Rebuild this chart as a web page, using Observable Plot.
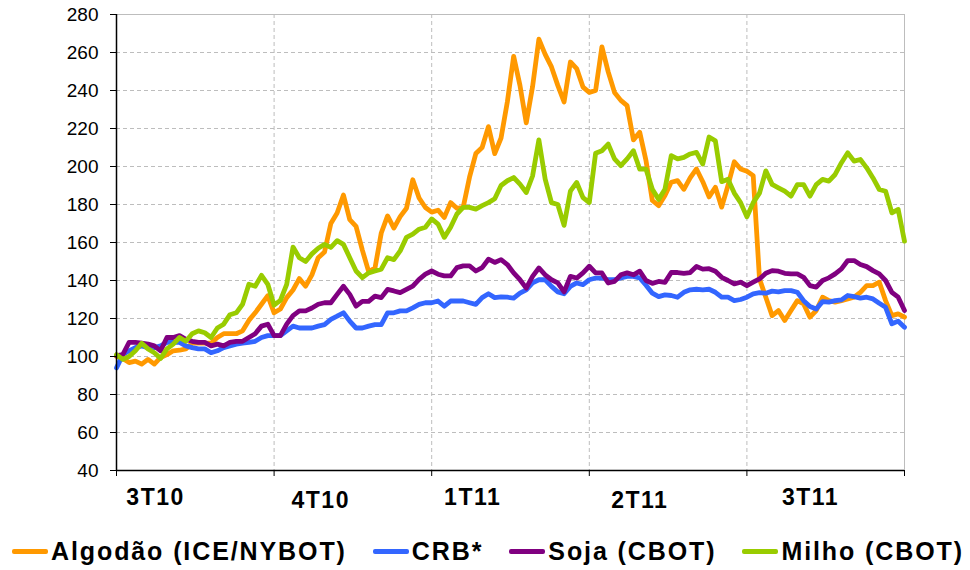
<!DOCTYPE html>
<html>
<head>
<meta charset="utf-8">
<script src="https://cdn.jsdelivr.net/npm/d3@7"></script>
<script src="https://cdn.jsdelivr.net/npm/@observablehq/plot@0.6"></script>
<style>
  html, body { margin: 0; padding: 0; background: #fff; }
  body { width: 970px; height: 570px; overflow: hidden; font-family: "Liberation Sans", Arial, sans-serif; }
  #legend { display: flex; align-items: center; padding-left: 12px; margin-top: 18px; height: 26px; gap: 26px;
    font-weight: bold; font-size: 25px; letter-spacing: 1.9px; color: #000; white-space: nowrap; }
  .item { display: flex; align-items: center; }
  .sw { width: 36px; height: 5px; border-radius: 2px; margin-right: 3px; }
</style>
</head>
<body>
<div id="chart"></div>
<div id="legend"></div>
<script>
// ---- data (index = sampling step, 25 steps per quarter) ----
const quarters = ["3T10", "4T10", "1T11", "2T11", "3T11"];
const seriesNames = ["Algodão (ICE/NYBOT)", "CRB*", "Soja (CBOT)", "Milho (CBOT)"];
const yTicks = [40, 60, 80, 100, 120, 140, 160, 180, 200, 220, 240, 260, 280];

const algodao = [100,99,96.8,97.6,96,98.5,96,99.5,101,103,103.3,104,107,107,107,107,110,112,112,112,
113.5,119,123,127.5,132,123,125,131,135,141,137,143,152,155,170,175.5,185,172,168.5,156,
144.7,146.5,165,174,167.6,173.6,178,193,183.4,178.4,176,177,173.2,181,178,178.5,194.4,206.8,210,221,
206.8,215,234,258,242.7,223,242,267,259,252.4,242.7,234,255,251.5,241.8,239,240,263,249.8,239,
234.8,232,214,218,203,182.1,179.4,184.7,191.7,192.6,188,194,198.7,192,184,189.1,178.6,190,202.5,198.7,
197.5,195.2,140.8,131.2,121.5,124.2,118.9,124.2,129.4,127.7,120.7,124.2,131.2,129.4,128.6,129.4,130.3,131.2,133.8,137.3,
137.3,139.1,129.4,121.5,122.4,120.7];

const crb = [94,101,103,104.7,105.6,104.7,104.7,105.6,107.4,107.4,107.4,105.6,104.7,104,104,102,103,104.7,105.6,106.5,
107,107.4,108,110,111,111,111,113.5,116,115,115,115,116,116.8,119.5,121.2,123,118.6,115,115,
116,116.8,116.8,123,123,124,124,125.6,127.4,128.3,128.3,129.2,126.5,129.2,129.2,129.2,128.3,127.4,131,133,
131,131.4,131.2,130.7,133.4,135.1,138.7,140.4,140.4,136.9,134,133,136.9,138.7,137.8,140.4,141.3,141.3,140.4,140.4,
141.3,142.2,142.2,141.3,137.5,133.3,131.5,132.4,132.1,131.2,133.8,135.1,135.4,135.1,135.4,133.8,131.2,131.2,129.4,130,
131.2,133,133.6,133.3,134.4,134,134.7,134.7,133.8,129.4,126.3,125,128.9,128.6,129.4,129.8,132.1,131.5,130.7,131.2,
130.3,128,125.9,117.2,118.6,115.4];

const soja = [100.5,101,107.4,107.4,107,106.5,105.6,103,110,110,111,109,108,107.4,107.4,105.6,106.5,105.6,107.4,108,
108,110,112,116,117,111,111,117,121.5,124,124,125.5,127.5,128.3,128.3,132.7,137,132.7,126.5,129,
129,131.8,131,135.3,134.5,133.6,135.3,137,140.6,143.3,145,143.3,142.4,142.4,146.8,147.7,147.7,145,146.8,151.2,
149.5,151,148.4,144,140.4,136,142.2,146.6,143,140.4,138.7,134,142.2,141.3,144,147.5,144,144,138.7,139.5,
143,144,143,144.9,140,138.5,139.5,139,144.2,144.2,143.7,144.2,147.4,146,146.2,144.9,141.7,140,138.2,139.1,
137.3,139.1,140.8,143.8,145.2,144.9,143.8,143.5,143.5,141.7,137.3,136.5,140,141.4,143.5,146.1,150.5,150.5,148.4,147.3,
145.2,143.5,140,133.8,131.2,124.2];

const milho = [101,98.5,100,103,107,104,102,99,104,106.5,110,108,112,113.5,112.5,110,115,117,122,123,
127.5,138,137,142.7,138,127,129.5,138,157.6,152,150,154,157,159,157.4,161,159,152,145,141.5,
144,145,146,152,151,155.6,162.7,164.4,167,168,172.4,169.7,162.7,168,175,178.5,178.5,177.6,179.4,181,
183,190,192.5,194.2,190.7,186.3,195,214,193.3,181,180,169,187,191.6,183.6,181,207,208.3,211.8,204,
200.4,204,208.3,198.6,198.6,188,182.7,188,205.7,204,204.8,206.6,207.4,201.3,215.5,213.5,192,193.3,186,181,
173.5,181,186,197.7,190.6,188.8,187,184.4,190.5,190.5,184.4,190.5,193.2,192.3,195.8,202,207.2,202.8,203.7,199.3,
194,187.9,187,175.6,177.4,160.7];

// ---- layout ----
const colors = ["#FF9900", "#3366FF", "#800080", "#99CC00"];
const seriesValues = [algodao, crb, soja, milho];
const stepsPerQuarter = 25;
const nSteps = quarters.length * stepsPerQuarter;
const qBounds = d3.range(0, quarters.length + 1).map(q => q * stepsPerQuarter);
const labelOffsets = [6.2, 7.4, 6.5, 8.0, 10.1];
const labelDy = [27, 30, 27, 30, 27];
const labelData = quarters.map((q, k) => ({q, x: k * stepsPerQuarter + labelOffsets[k]}));

const gridColor = "#bdbdbd";
const font = '"Liberation Sans", Arial, sans-serif';

const lineMarks = seriesValues.map((vals, k) =>
  Plot.lineY(vals, {x: (d, i) => i, y: d => d, stroke: colors[k], strokeWidth: 4.8,
    strokeLinejoin: "round", strokeLinecap: "round"}));

const chart = Plot.plot({
  width: 970,
  height: 520,
  marginLeft: 116,
  marginRight: 66,
  marginTop: 14,
  marginBottom: 50,
  style: {fontFamily: font, color: "#000", background: "#fff"},
  x: {domain: [0, nSteps], axis: null},
  y: {domain: [40, 280], axis: null},
  marks: [
    Plot.gridY(yTicks.filter(t => t > 40 && t < 280), {stroke: gridColor, strokeOpacity: 1, strokeDasharray: "4,3"}),
    Plot.gridX(qBounds.slice(1, -1), {stroke: gridColor, strokeOpacity: 1, strokeDasharray: "4,3"}),
    Plot.ruleY([280], {stroke: gridColor}),
    Plot.ruleX([nSteps], {stroke: gridColor}),
    ...lineMarks,
    Plot.ruleX([0], {stroke: "#000", strokeWidth: 1.5}),
    Plot.ruleY([40], {stroke: "#000", strokeWidth: 1.5}),
    Plot.axisY({ticks: yTicks, tickSize: 6, tickPadding: 12, fontSize: 19, stroke: "#000", label: null,
      style: {letterSpacing: "1px"}}),
    Plot.axisX({ticks: qBounds, tickSize: 6, tickFormat: () => "", stroke: "#000", label: null}),
    Plot.text(labelData, {x: "x", y: () => 40, text: "q", fontSize: 23,
      fontWeight: "bold", fill: "#000"})
  ]
});
document.getElementById("chart").appendChild(chart);
chart.querySelectorAll("text").forEach(t => {
  const k = quarters.indexOf(t.textContent);
  if (k >= 0) {
    t.setAttribute("transform", (t.getAttribute("transform") || "") + ` translate(0,${labelDy[k]})`);
    t.style.letterSpacing = "1.5px";
  }
});

// ---- legend ----
const legend = d3.select("#legend");
seriesNames.forEach((name, k) => {
  const item = legend.append("div").attr("class", "item");
  item.append("div").attr("class", "sw").style("background", colors[k]);
  item.append("span").text(name);
});
</script>
</body>
</html>
